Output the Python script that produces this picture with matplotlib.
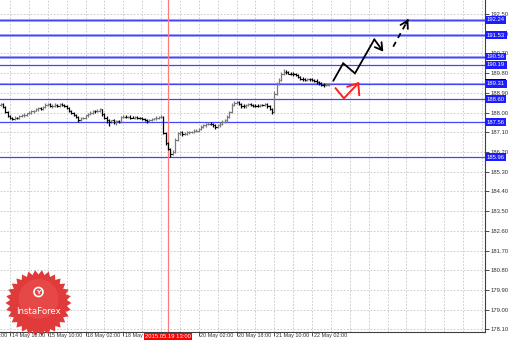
import numpy as np
import matplotlib
matplotlib.use('Agg')
from matplotlib import pyplot as plt
from matplotlib import transforms as mtrans
from matplotlib.patches import Polygon, Ellipse

# ---- hourly bars (closes, wicks in pips) ----
first_open = 188.35
closes = [188.39, 188.25, 188.03, 187.84, 187.75, 187.71, 187.77, 187.75, 187.84, 187.87,
          187.91, 187.96, 188.00, 188.05, 188.09, 188.14, 188.19, 188.16, 188.25, 188.35,
          188.37, 188.28, 188.32, 188.35, 188.30, 188.37, 188.35, 188.30, 188.21, 188.07,
          187.98, 187.89, 187.80, 187.66, 187.73, 187.77, 187.87, 187.93, 188.00, 188.05,
          188.05, 188.09, 188.14, 187.93, 187.77, 187.64, 187.59, 187.64, 187.59, 187.61,
          187.59, 187.80, 187.82, 187.80, 187.82, 187.77, 187.77, 187.80, 187.75, 187.75,
          187.71, 187.66, 187.61, 187.66, 187.71, 187.73, 187.77, 187.80, 187.82, 187.07,
          186.61, 186.34, 186.11, 186.20, 186.75, 187.07, 187.09, 187.02, 187.04, 187.09,
          187.11, 187.13, 187.16, 187.18, 187.25, 187.34, 187.41, 187.48, 187.50, 187.48,
          187.43, 187.36, 187.41, 187.50, 187.57, 187.64, 187.80, 188.03, 188.35, 188.44,
          188.46, 188.39, 188.30, 188.28, 188.35, 188.37, 188.35, 188.32, 188.32, 188.30,
          188.35, 188.35, 188.37, 188.30, 188.16, 188.03, 188.85, 189.30, 189.49, 189.76,
          189.85, 189.83, 189.78, 189.76, 189.74, 189.71, 189.62, 189.55, 189.51, 189.49,
          189.51, 189.51, 189.49, 189.46, 189.40, 189.33, 189.28, 189.26, 189.28, 189.30]
wick_hi = [5,4,6,3,4,5,6,4,5,6, 5,4,6,5,4,6,5,7,6,8, 5,6,5,7,6,5,6,4,5,4,
           6,5,4,5,6,5,4,6,5,7, 5,6,8,4,5,6,5,4,6,5, 6,5,7,6,4,5,6,5,4,5,
           6,4,5,6,5,4,6,5,7,3, 4,5,4,8,9,6,5,7,6,5, 6,5,7,6,5,8,6,5,7,6,
           5,4,6,5,7,6,8,6,7,9, 8,6,5,7,6,5,6,5,7,6, 5,6,7,5,4,5,12,10,8,9,
           12,8,7,6,8,6,5,7,6,5, 6,5,7,6,5,4,5,6,5,4]
wick_lo = [5,6,4,5,6,4,5,6,5,4, 6,5,4,6,5,4,6,5,4,6, 5,4,6,5,4,5,6,4,5,6,
           5,4,6,7,5,4,6,5,4,6, 5,4,6,9,8,12,22,7,9,18, 6,5,7,4,6,5,4,6,5,4,
           6,5,7,6,4,5,6,5,4,6, 8,7,13,6,5,6,8,7,6,5, 6,4,5,6,5,4,6,5,7,6,
           8,9,5,6,5,4,6,5,4,6, 5,6,7,5,6,5,4,6,5,4, 6,5,4,7,6,8,5,6,5,4,
           6,5,4,6,5,4,6,7,5,6, 5,7,6,5,8,6,5,8,6,5]

ytick_vals = [192.50, 191.60, 190.70, 189.80, 188.90, 188.00, 187.10, 186.20, 185.30,
              184.40, 183.50, 182.60, 181.70, 180.80, 179.90, 179.00, 178.10]
levels = [192.24, 191.53, 190.56, 190.19, 189.31, 188.60, 187.56, 185.96]
level_thick = [True, True, True, False, False, False, False, False]
bid_price = 189.37

xlab_idx = [-12, 4, 20, 36, 52, 84, 100, 116, 132]
xlab_txt = ['14 May 02:00', '14 May 18:00', '15 May 10:00', '18 May 02:00', '18 May 18:00',
            '20 May 02:00', '20 May 18:00', '21 May 10:00', '22 May 02:00']
grid_x = list(range(4, 205, 8))
marker_idx = 71
marker_txt = '2015.05.19 13:00'

# forecast drawings (bar index, price)
fc_main_x = [141.0, 145.2, 150.2, 158.4, 162.2]
fc_main_y = [189.45, 190.25, 189.79, 191.34, 190.78]
fc_dash_x = [166.4, 172.8]
fc_dash_y = [191.01, 192.26]
alt_x = [142.0, 145.5, 151.6]
alt_y = [189.11, 188.65, 189.34]
alt_head_x = [147.0, 151.6, 152.0]
alt_head_y = [189.18, 189.34, 188.80]

plt.rcParams['font.family'] = ['Liberation Sans', 'DejaVu Sans']
FS = 4.2
FSX = 3.9

W, H = 510, 343
fig = plt.figure(figsize=(W / 100, H / 100), dpi=100)
fig.patch.set_facecolor('white')
ax = fig.add_axes([0, 11 / H, 485 / W, 332 / H])
ax.set_xlim(-0.24, 205.3)
ax.set_ylim(177.98, 193.14)

for s in ['top', 'left']:
    ax.spines[s].set_visible(False)
for s in ['right', 'bottom']:
    ax.spines[s].set_color('#404040')
    ax.spines[s].set_linewidth(0.8)

# grid
for gx in grid_x:
    ax.axvline(gx, color='#c4c4c4', lw=0.6, ls=(0, (2, 2)), zorder=0)
for gy in ytick_vals:
    ax.axhline(gy, color='#c4c4c4', lw=0.6, ls=(0, (2, 2)), zorder=0)

# level lines
for lv, thick in zip(levels, level_thick):
    if thick:
        ax.axhline(lv, color='#a4a4ff', lw=2.0, zorder=1)
    ax.axhline(lv, color='#4444ff', lw=0.9, zorder=1)
ax.axhline(bid_price, color='#a0a0a0', lw=0.7, zorder=1)

# red time marker
ax.axvline(marker_idx, color='#ff7a7a', lw=0.9, zorder=1)

# bars
idx = np.arange(len(closes))
c = np.array(closes)
o = np.array([first_open] + closes[:-1])
hi = np.maximum(o, c) + np.array(wick_hi) / 100.0
lo = np.minimum(o, c) - np.array(wick_lo) / 100.0
cols = ['#7a7a7a' if cc > oo else '#000000' for oo, cc in zip(o, c)]
ax.vlines(idx, lo, hi, colors=cols, lw=0.9, zorder=3)
ax.hlines(o, idx - 0.6, idx, colors=cols, lw=0.8, zorder=3)
ax.hlines(c, idx, idx + 0.6, colors=cols, lw=0.8, zorder=3)

# forecast arrows
ax.plot(fc_main_x[:-1], fc_main_y[:-1], color='black', lw=1.3, zorder=4,
        solid_capstyle='round', solid_joinstyle='miter')
ax.annotate('', xy=(fc_main_x[-1], fc_main_y[-1]), xytext=(fc_main_x[-2], fc_main_y[-2]),
            arrowprops=dict(arrowstyle='->,head_length=0.5,head_width=0.3', color='black',
                            lw=1.3, shrinkA=0, shrinkB=0), zorder=4)
ax.plot(fc_dash_x, fc_dash_y, color='black', lw=1.3, ls=(0, (3, 2.5)), zorder=4)
ax.annotate('', xy=(fc_dash_x[1], fc_dash_y[1]),
            xytext=(fc_dash_x[1] - 1.0, fc_dash_y[1] - 0.2),
            arrowprops=dict(arrowstyle='->,head_length=0.5,head_width=0.3', color='black',
                            lw=1.3, shrinkA=0, shrinkB=0), zorder=4)
ax.plot(alt_x, alt_y, color='#ff2020', lw=1.4, zorder=4)
ax.plot(alt_head_x, alt_head_y, color='#ff2020', lw=1.4, zorder=4)

# y axis on the right
ax.yaxis.tick_right()
ax.set_yticks(ytick_vals)
ax.set_yticklabels(['%.2f' % v for v in ytick_vals])
ax.tick_params(axis='y', length=3, width=0.6, pad=1.2, labelsize=FS,
               colors='#303030')
ax.set_xticks(xlab_idx[1:])
ax.set_xticklabels([])
ax.tick_params(axis='x', length=3, width=0.6, colors='#303030')

ylab_tr = mtrans.blended_transform_factory(ax.transAxes, ax.transData)
ax.text(1.004, bid_price, '%.2f' % bid_price, transform=ylab_tr, ha='left', va='center',
        color='white', fontsize=FS, clip_on=False, zorder=5,
        bbox=dict(boxstyle='square,pad=0.25', fc='black', ec='none'))
for lv in levels:
    ax.text(1.004, lv, '%.2f' % lv, transform=ylab_tr, ha='left', va='center',
            color='white', fontsize=FS, clip_on=False, zorder=6,
            bbox=dict(boxstyle='square,pad=0.25', fc='#1c1cff', ec='none'))

# logo (InstaForex starburst)
cx, cy = 38.5, 40.0
n = 30
ang = np.linspace(0, 2 * np.pi, 2 * n, endpoint=False)
rad = np.where(np.arange(2 * n) % 2 == 0, 33.0, 28.5)
pts = np.column_stack([(cx + rad * np.cos(ang)) / W, (cy + rad * np.sin(ang)) / H])
fig.add_artist(Polygon(pts, closed=True, transform=fig.transFigure, fc='#e03a3a',
                       ec='none', zorder=3))
fig.add_artist(Ellipse(((cx) / W, (cy + 4) / H), 40 / W, 40 / H, transform=fig.transFigure,
                       fc='#ec5252', ec='none', alpha=0.55, zorder=3))
fig.add_artist(Ellipse((cx / W, (cy + 11) / H), 9 / W, 9 / H, transform=fig.transFigure,
                       fc='none', ec='white', lw=1.2, zorder=4))
fig.text(cx / W, (cy + 10.5) / H, 'Y', ha='center', va='center', color='white',
         fontsize=4.5, fontweight='bold', family='DejaVu Sans', zorder=4)
fig.text(cx / W, (cy - 8) / H, 'InstaForex', ha='center', va='center', color='white',
         fontsize=6.2, family='DejaVu Sans', zorder=4)

# x labels
xtr = mtrans.blended_transform_factory(ax.transData, ax.transAxes)
xtr_lab = mtrans.offset_copy(xtr, fig=fig, x=1.5, y=-1.5, units='dots')
for xi, tx in zip(xlab_idx, xlab_txt):
    fig.text(xi, 0, tx, transform=xtr_lab, ha='left', va='top', fontsize=FSX,
             color='#303030', zorder=5)
xtr_mark = mtrans.offset_copy(xtr, fig=fig, x=0, y=-2.0, units='dots')
fig.text(marker_idx, 0, marker_txt, transform=xtr_mark, ha='center', va='top',
         fontsize=FS, color='white', zorder=6,
         bbox=dict(boxstyle='square,pad=0.2', fc='#ff0000', ec='none'))

fig.savefig('out.png', dpi=100, facecolor='white')
